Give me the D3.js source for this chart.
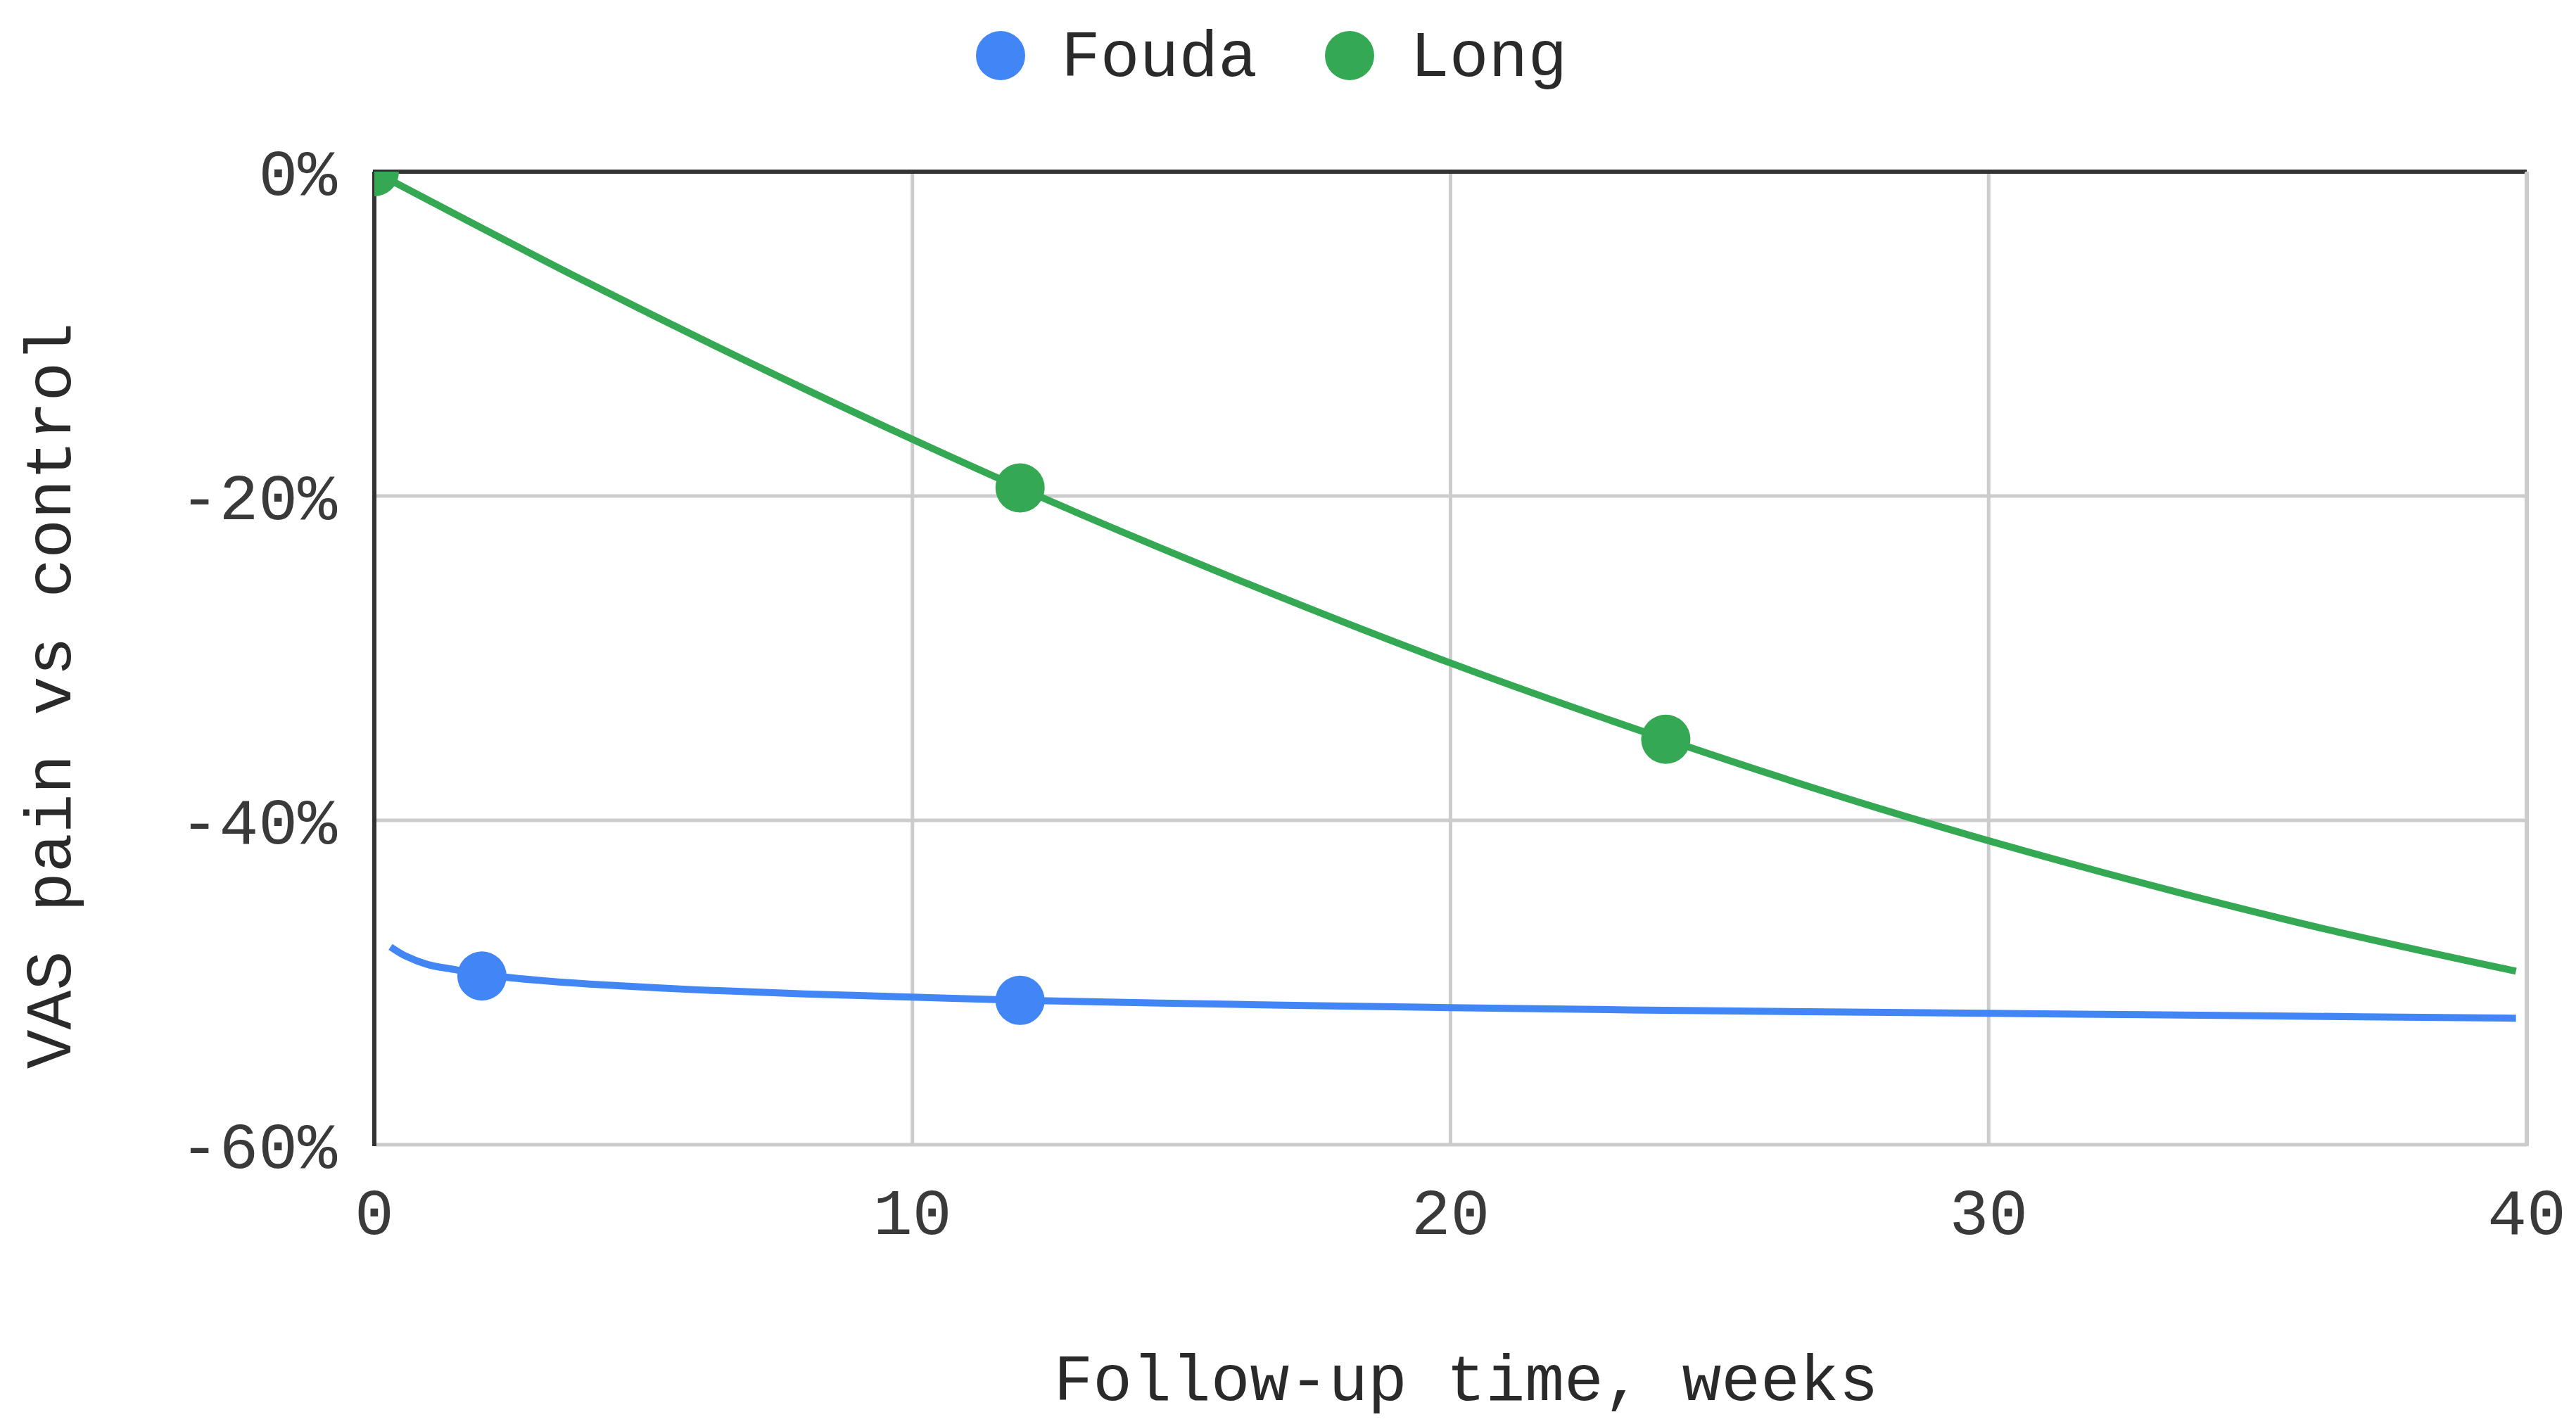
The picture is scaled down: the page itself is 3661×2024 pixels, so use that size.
<!DOCTYPE html>
<html>
<head>
<meta charset="utf-8">
<script src="https://cdnjs.cloudflare.com/ajax/libs/d3/7.8.5/d3.min.js"></script>
<style>
  html, body { margin: 0; padding: 0; background: #fff; }
  text { font-family: "Courier New", "Liberation Mono", monospace; }
</style>
</head>
<body>
<script>
// Series names and colours
var seriesNames  = ['Fouda', 'Long'],
    seriesColors = ['#4285f4', '#34a853'];

// Observed points (weeks, % change vs control)
var foudaWeeks  = [2, 12],
    foudaValues = [-49.6, -51.1],
    longWeeks   = [0, 12, 24],
    longValues  = [0, -19.5, -35.0];

// Trend lines
var foudaTrendWeeks  = [0.3, 0.6, 1, 1.5, 2, 3, 4, 6, 8, 10, 12, 16, 20, 25, 30, 35, 39.8],
    foudaTrendValues = [-47.8, -48.4, -48.9, -49.2, -49.5, -49.85, -50.1, -50.45, -50.7, -50.9, -51.1, -51.35, -51.55, -51.75, -51.9, -52.05, -52.2],
    longTrendWeeks   = [0, 4, 8, 12, 16, 20, 24, 28, 32, 36, 39.8],
    longTrendValues  = [0, -6.9, -13.4, -19.5, -25.1, -30.3, -35.0, -39.3, -43.1, -46.5, -49.3];

// Axis ticks
var xTicks = [0, 10, 20, 30, 40],
    yTicks = [0, -20, -40, -60];

var width  = 3661,
    height = 2024,
    margin = { top: 244, right: 70, bottom: 397, left: 532 },
    plotW  = width - margin.left - margin.right,
    plotH  = height - margin.top - margin.bottom,
    fontSize = 93;

var xScale = d3.scaleLinear().domain([0, 40]).range([0, plotW]);
var yScale = d3.scaleLinear().domain([-60, 0]).range([plotH, 0]);

var svg = d3.select('body').append('svg')
    .attr('width', width)
    .attr('height', height);

var g = svg.append('g')
    .attr('transform', 'translate(' + margin.left + ',' + margin.top + ')');

g.append('clipPath').attr('id', 'plot-clip')
    .append('rect')
    .attr('width', plotW)
    .attr('height', plotH);

// Grid lines
g.selectAll('.vgrid').data(xTicks)
    .enter().append('line')
    .attr('class', 'vgrid')
    .attr('x1', function(d) { return xScale(d); })
    .attr('x2', function(d) { return xScale(d); })
    .attr('y1', 0).attr('y2', plotH)
    .style('stroke', '#cccccc').style('stroke-width', 5);

g.selectAll('.hgrid').data(yTicks)
    .enter().append('line')
    .attr('class', 'hgrid')
    .attr('x1', 0).attr('x2', plotW)
    .attr('y1', function(d) { return yScale(d); })
    .attr('y2', function(d) { return yScale(d); })
    .style('stroke', '#cccccc').style('stroke-width', 5);

// Baseline at 0% and left axis
g.append('line')
    .attr('x1', -2).attr('x2', plotW)
    .attr('y1', yScale(0)).attr('y2', yScale(0))
    .style('stroke', '#333333').style('stroke-width', 6);
g.append('line')
    .attr('x1', 0).attr('x2', 0)
    .attr('y1', 0).attr('y2', plotH + 2)
    .style('stroke', '#333333').style('stroke-width', 6);

// Tick labels
g.selectAll('.xlab').data(xTicks)
    .enter().append('text')
    .attr('class', 'xlab')
    .attr('x', function(d) { return xScale(d); })
    .attr('y', plotH + 127)
    .attr('text-anchor', 'middle')
    .style('font-size', fontSize + 'px')
    .style('fill', '#3a3a3a')
    .text(function(d) { return d; });

g.selectAll('.ylab').data(yTicks)
    .enter().append('text')
    .attr('class', 'ylab')
    .attr('x', -53)
    .attr('y', function(d) { return yScale(d); })
    .attr('dy', '0.36em')
    .attr('text-anchor', 'end')
    .style('font-size', fontSize + 'px')
    .style('fill', '#3a3a3a')
    .text(function(d) { return d + '%'; });

// Lines
var line = d3.line()
    .x(function(d) { return xScale(d[0]); })
    .y(function(d) { return yScale(d[1]); })
    .curve(d3.curveCatmullRom);

var trends = [
    d3.zip(foudaTrendWeeks, foudaTrendValues),
    d3.zip(longTrendWeeks, longTrendValues)
];
var points = [
    d3.zip(foudaWeeks, foudaValues),
    d3.zip(longWeeks, longValues)
];

var plot = g.append('g').attr('clip-path', 'url(#plot-clip)');

plot.selectAll('.trend').data(trends)
    .enter().append('path')
    .attr('class', 'trend')
    .attr('d', line)
    .style('fill', 'none')
    .style('stroke', function(d, i) { return seriesColors[i]; })
    .style('stroke-width', 10);

points.forEach(function(pts, i) {
    plot.selectAll('.pt' + i).data(pts)
        .enter().append('circle')
        .attr('class', 'pt' + i)
        .attr('cx', function(d) { return xScale(d[0]); })
        .attr('cy', function(d) { return yScale(d[1]); })
        .attr('r', 35)
        .style('fill', seriesColors[i]);
});

// Right frame drawn above the marks
g.append('line')
    .attr('x1', plotW).attr('x2', plotW)
    .attr('y1', 0).attr('y2', plotH + 2)
    .style('stroke', '#cccccc').style('stroke-width', 6);

// Axis titles
svg.append('text')
    .attr('x', margin.left + plotW / 2 + 22)
    .attr('y', 1990)
    .attr('text-anchor', 'middle')
    .style('font-size', fontSize + 'px')
    .style('fill', '#2a2a2a')
    .text('Follow-up time, weeks');

svg.append('text')
    .attr('transform', 'translate(100,' + 989 + ') rotate(-90)')
    .attr('text-anchor', 'middle')
    .style('font-size', fontSize + 'px')
    .style('fill', '#2a2a2a')
    .text('VAS pain vs control');

// Legend
var legendX = [1422, 1918];
var legend = svg.selectAll('.legend').data(seriesNames)
    .enter().append('g')
    .attr('class', 'legend')
    .attr('transform', function(d, i) { return 'translate(' + legendX[i] + ',79)'; });

legend.append('circle')
    .attr('r', 35)
    .style('fill', function(d, i) { return seriesColors[i]; });

legend.append('text')
    .attr('x', 86)
    .attr('y', 29)
    .style('font-size', fontSize + 'px')
    .style('fill', '#2a2a2a')
    .text(function(d) { return d; });
</script>
</body>
</html>
